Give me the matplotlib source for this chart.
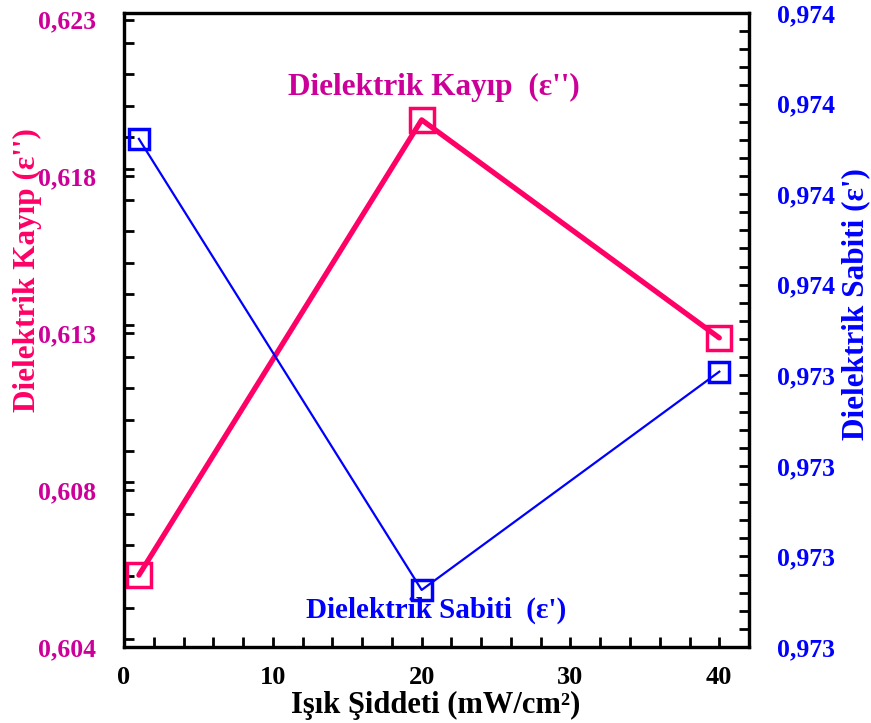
import matplotlib
matplotlib.use("Agg")
import matplotlib.pyplot as plt
from matplotlib.ticker import MultipleLocator, FuncFormatter
import numpy as np

# data
intensity = [1, 20, 40]                        # mW/cm2
loss = [0.6058, 0.61973, 0.61306]              # dielectric loss eps''
constant = [0.973681, 0.973183, 0.973424]      # dielectric constant eps'

pink = '#FF0066'
magenta = '#CC0099'
blue = '#0000FF'

plt.rcParams['font.family'] = ['Liberation Serif', 'DejaVu Serif']
plt.rcParams['font.weight'] = 'bold'

fig = plt.figure(figsize=(8.71, 7.23), dpi=100)
ax = fig.add_axes([0.1424, 0.1051, 0.7176, 0.8769])
ax2 = ax.twinx()

ax.plot(intensity, loss, color=pink, lw=3.8, marker='s', ms=17, mfc='none',
        mec=pink, mew=2.5, solid_capstyle='round', zorder=3)
ax2.plot(intensity, constant, color=blue, lw=1.6, marker='s', ms=14, mfc='none',
         mec=blue, mew=2.5, zorder=3)

ax.set_xlim(0, 42)
ax.set_ylim(0.6036, 0.6230)
ax2.set_ylim(0.97312, 0.97382)

comma = lambda v, p: ('%.3f' % v).replace('.', ',')

ax.xaxis.set_major_locator(MultipleLocator(10))
ax.xaxis.set_minor_locator(MultipleLocator(2))
ax.set_yticks(0.6036 + 0.0048 * np.arange(5))
ax.yaxis.set_minor_locator(MultipleLocator(0.00096))
ax.yaxis.set_major_formatter(FuncFormatter(comma))
ax2.set_yticks(0.97312 + 0.0001 * np.arange(8))
ax2.yaxis.set_minor_locator(MultipleLocator(0.00002))
ax2.yaxis.set_major_formatter(FuncFormatter(comma))

for a in (ax, ax2):
    for s in a.spines.values():
        s.set_linewidth(2.3)

ax.tick_params(axis='x', which='both', direction='in', length=7, width=2,
               labelsize=19, pad=14, top=False)
ax.tick_params(axis='y', which='both', direction='in', length=7, width=2,
               labelsize=18.5, pad=20, labelcolor=magenta, right=False)
ax2.tick_params(axis='y', which='both', direction='in', length=7, width=2,
                labelsize=18.5, pad=20, labelcolor=blue)
for lab in ax.get_xticklabels() + ax.get_yticklabels() + ax2.get_yticklabels():
    lab.set_fontweight('bold')

fig.text(0.5, 0.004, 'Işık Şiddeti (mW/cm²)', ha='center', va='bottom',
         fontsize=22, fontweight='bold', color='black')
fig.text(0.032, 0.627, "Dielektrik Kayıp (ε'')", rotation=90, ha='center',
         va='center', fontsize=22.5, fontweight='bold', color=pink)
fig.text(0.982, 0.580, "Dielektrik Sabiti (ε')", rotation=90, ha='center',
         va='center', fontsize=22.5, fontweight='bold', color=blue)

ax.text(20.8, 0.62071, "Dielektrik Kayıp  (ε'')", ha='center', va='center',
        fontsize=22.5, fontweight='bold', color=magenta)
ax.text(21.0, 0.60473, "Dielektrik Sabiti  (ε')", ha='center', va='center',
        fontsize=21, fontweight='bold', color=blue)

fig.savefig('out.png', dpi=100)
